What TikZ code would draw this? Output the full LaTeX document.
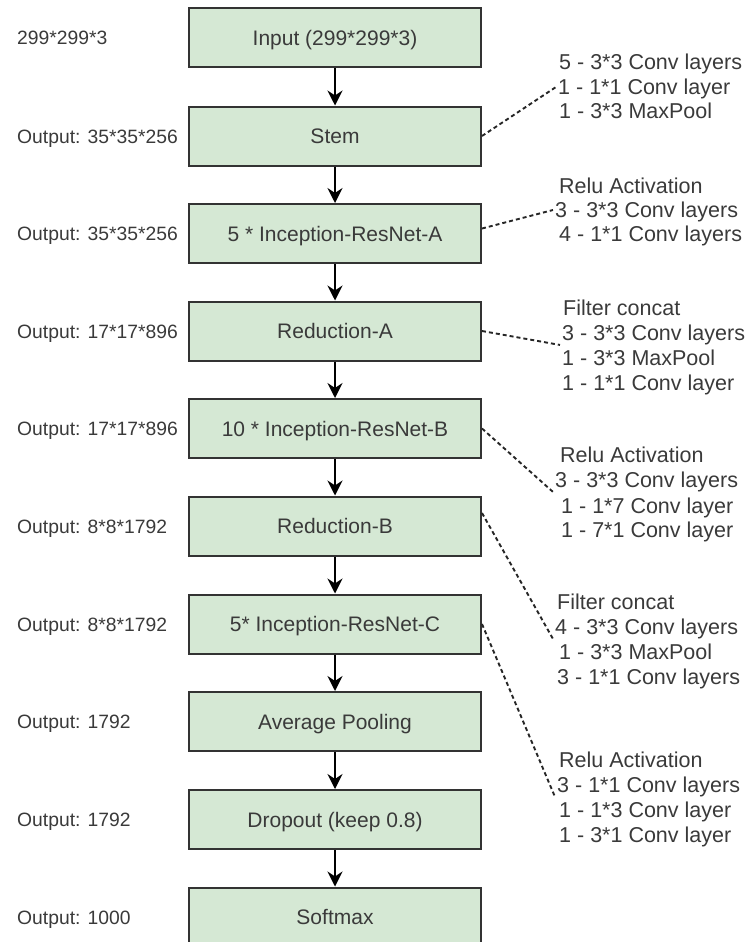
\documentclass[tikz,border=0pt]{standalone}
\usepackage{fontspec}
\setmainfont{Liberation Sans}
\usetikzlibrary{arrows.meta}
\definecolor{boxfill}{HTML}{D5E8D4}
\definecolor{boxline}{HTML}{333333}
\definecolor{ink}{HTML}{3A3A3A}

\begin{document}
\begin{tikzpicture}[x=1pt, y=-1pt,
  layer/.style={draw=boxline, line width=2pt, fill=boxfill,
    minimum width=292pt, minimum height=59pt, inner sep=0pt,
    text=ink, font=\fontsize{21}{25}\selectfont,
    text height=15pt, text depth=0pt},
  dimlabel/.style={anchor=west, inner sep=0pt, text=ink,
    font=\fontsize{19.3}{23}\selectfont, text height=14pt, text depth=0pt},
  note/.style={anchor=west, inner xsep=2pt, inner ysep=4pt, text=ink,
    font=\fontsize{21.5}{25}\selectfont, text height=15.5pt, text depth=0pt},
  flow/.style={draw=black, line width=1.6pt,
    -{Stealth[length=15pt, width=15pt, inset=5pt]}},
  link/.style={draw=black!85, line width=1.9pt, dash pattern=on 4pt off 3pt}
]
\useasboundingbox (0,0) rectangle (748,942);

% main pipeline
\node[layer] (input)   at (335,38)    {Input (299*299*3)};
\node[layer] (stem)    at (335,136)   {Stem};
\node[layer] (inca)    at (335,233.5) {5 * Inception-ResNet-A};
\node[layer] (reda)    at (335,331)   {Reduction-A};
\node[layer] (incb)    at (335,428.5) {10 * Inception-ResNet-B};
\node[layer] (redb)    at (335,526)   {Reduction-B};
\node[layer] (incc)    at (335,624)   {5* Inception-ResNet-C};
\node[layer] (avgpool) at (335,721.5) {Average Pooling};
\node[layer] (dropout) at (335,819.5) {Dropout (keep 0.8)};
\node[layer] (softmax) at (335,917)   {Softmax};

\foreach \a/\b in {input/stem, stem/inca, inca/reda, reda/incb, incb/redb,
                   redb/incc, incc/avgpool, avgpool/dropout, dropout/softmax}
  \draw[flow] (\a.south) -- (\b.north);

% tensor sizes on the left
\node[dimlabel] (d0) at (17,38)    {299*299*3};
\node[dimlabel] (d1) at (17,136)   {Output: 35*35*256};
\node[dimlabel] (d2) at (17,233.5) {Output: 35*35*256};
\node[dimlabel] (d3) at (17,331)   {Output: 17*17*896};
\node[dimlabel] (d4) at (17,428.5) {Output: 17*17*896};
\node[dimlabel] (d5) at (17,526)   {Output: 8*8*1792};
\node[dimlabel] (d6) at (17,624)   {Output: 8*8*1792};
\node[dimlabel] (d7) at (17,721.5) {Output: 1792};
\node[dimlabel] (d8) at (17,819.5) {Output: 1792};
\node[dimlabel] (d9) at (17,917)   {Output: 1000};

% block contents on the right
\node[note] (s1) at (557,62)  {5 - 3*3 Conv layers};
\node[note] (s2) at (556,87)  {1 - 1*1 Conv layer};
\node[note] (s3) at (557,111) {1 - 3*3 MaxPool};

\node[note] (a1) at (557,186) {Relu Activation};
\node[note] (a2) at (553,210) {3 - 3*3 Conv layers};
\node[note] (a3) at (557,234) {4 - 1*1 Conv layers};

\node[note] (ra1) at (561,308) {Filter concat};
\node[note] (ra2) at (560,333) {3 - 3*3 Conv layers};
\node[note] (ra3) at (560,358) {1 - 3*3 MaxPool};
\node[note] (ra4) at (560,383) {1 - 1*1 Conv layer};

\node[note] (b1) at (558,455) {Relu Activation};
\node[note] (b2) at (553,480) {3 - 3*3 Conv layers};
\node[note] (b3) at (559,506) {1 - 1*7 Conv layer};
\node[note] (b4) at (559,530) {1 - 7*1 Conv layer};

\node[note] (rb1) at (555,602) {Filter concat};
\node[note] (rb2) at (553,627) {4 - 3*3 Conv layers};
\node[note] (rb3) at (557,652) {1 - 3*3 MaxPool};
\node[note] (rb4) at (555,677) {3 - 1*1 Conv layers};

\node[note] (c1) at (557,760) {Relu Activation};
\node[note] (c2) at (555,785) {3 - 1*1 Conv layers};
\node[note] (c3) at (557,810) {1 - 1*3 Conv layer};
\node[note] (c4) at (557,835) {1 - 3*1 Conv layer};

% dashed links from blocks to their contents
\draw[link] (stem.east) -- (s2.west);
\draw[link] ([yshift=5pt]inca.east) -- (a2.west);
\draw[link] (reda.east) -- (ra2.south west);
\draw[link] (incb.east) -- (b2.south west);
\draw[link] ([yshift=13pt]redb.east) -- (rb2.south west);
\draw[link] (incc.east) -- (c2.south west);
\end{tikzpicture}
\end{document}
